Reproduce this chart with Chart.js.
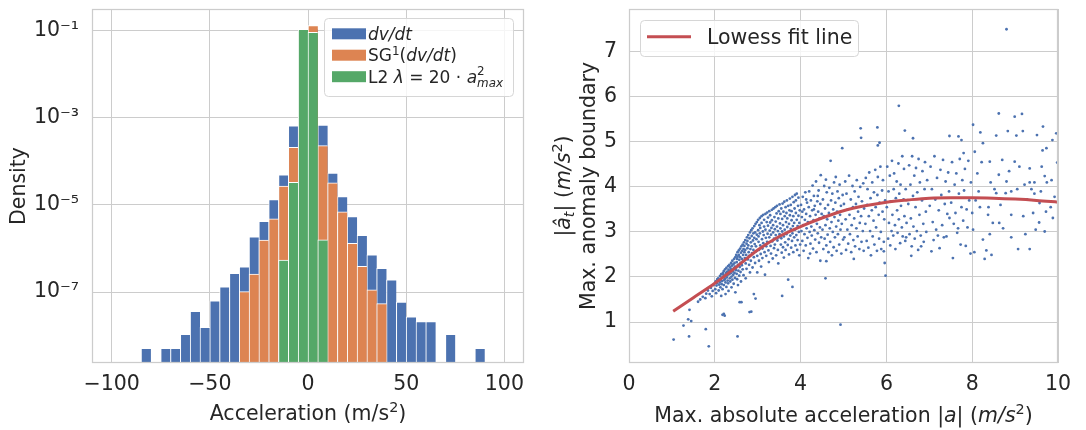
<!DOCTYPE html>
<html>
<head>
<meta charset="utf-8">
<script src="https://cdn.jsdelivr.net/npm/chart.js@4.4.1/dist/chart.umd.min.js"></script>
<style>
  body { margin: 0; background: #fff; }
  #wrap { position: relative; width: 1086px; height: 430px; }
  canvas { position: absolute; top: 0; }
  #histChart { left: 0; }
  #boundaryChart { left: 545px; }
</style>
</head>
<body>
<div id="wrap">
  <canvas id="histChart" width="545" height="430"></canvas>
  <canvas id="boundaryChart" width="541" height="430"></canvas>
</div>
<script>
// ---- histogram data (bin centers, width 5 m/s^2) ----
const binCenters = [-82.5, -77.5, -72.5, -67.5, -62.5, -57.5, -52.5, -47.5, -42.5, -37.5,
  -32.5, -27.5, -22.5, -17.5, -12.5, -7.5, -2.5, 2.5, 7.5, 12.5, 17.5, 22.5, 27.5, 32.5,
  37.5, 42.5, 47.5, 52.5, 57.5, 62.5, 67.5, 72.5, 77.5, 82.5, 87.5];

// dv/dt
const rawDensity = [5.1e-9, null, 5.1e-9, 5.1e-9, 1.07e-8, 3.6e-8, 1.55e-8, 6.3e-8, 1.32e-7, 2.7e-7,
  3.8e-7, 1.86e-6, 4.2e-6, 1.32e-5, 4.9e-5, 6.5e-4, 0.09, 0.11, 6.8e-4, 5.4e-5, 1.55e-5, 5.4e-6, 2.0e-6, 7.1e-7,
  3.5e-7, 1.9e-7, 5.9e-8, 2.7e-8, 2.1e-8, 2.1e-8, null, 1.07e-8, null, null, 5.1e-9];

// SG^1(dv/dt)
const sgDensity = [null, null, null, null, null, null, null, null, null, null,
  1.02e-7, 2.6e-7, 1.55e-6, 4.8e-6, 2.7e-5, 2.1e-4, 0.09, 0.13, 2.3e-4, 3.2e-5, 6.9e-6, 1.32e-6, 3.9e-7, 1.12e-7,
  5.4e-8, null, null, null, null, null, null, null, null, null, null];

// L2 lambda = 20 a_max^2
const l2Density = [null, null, null, null, null, null, null, null, null, null,
  null, null, null, null, 5.4e-7, 3.3e-5, 0.107, 0.091, 1.58e-6, null, null, null, null, null,
  null, null, null, null, null, null, null, null, null, null, null];

const accelTicks = [-100, -50, 0, 50, 100];
const densityTicks = [1e-7, 1e-5, 1e-3, 1e-1];
const densityTickLabels = ['10\u207B\u2077', '10\u207B\u2075', '10\u207B\u00B3', '10\u207B\u00B9'];

// ---- boundary scatter data: [max |a|, max anomaly boundary] ----
const boundaryPoints = [
  // sparse low end
  [1.04,0.61],[1.27,0.92],[1.38,1.06],[1.45,1.02],[1.41,1.27],[1.40,0.68],[1.79,0.84],[1.86,0.46],
  [1.61,1.45],[1.66,1.50],[1.72,1.56],[1.78,1.53],[1.80,1.63],[1.84,1.70],[1.88,1.62],[1.91,1.76],
  [1.95,1.69],[1.97,1.82],[1.93,1.57],[2.21,1.18],[2.23,1.14],[2.18,1.16],[2.53,0.68],[2.58,1.44],
  [2.62,1.44],[2.81,1.22],[2.85,1.23],[2.91,1.62],[2.95,1.52],[3.57,1.58],[3.71,1.94],[3.81,1.78],
  [4.58,1.97],[4.93,0.94],
  // 2.0 - 2.5
  [2.02,1.90],[2.04,1.81],[2.01,1.73],[2.06,1.95],[2.05,1.86],[2.03,1.64],
  [2.08,1.97],[2.10,1.83],[2.07,1.91],[2.09,1.70],[2.12,2.02],[2.11,1.93],[2.13,1.77],[2.12,1.88],
  [2.15,2.06],[2.14,1.96],[2.16,1.84],[2.15,1.58],[2.17,1.91],[2.19,2.09],[2.18,1.99],[2.18,1.73],
  [2.20,2.05],[2.22,1.93],[2.21,2.13],[2.21,1.82],[2.23,2.01],[2.24,2.17],[2.25,1.88],[2.24,1.96],[2.26,2.09],[2.25,1.62],
  [2.27,2.20],[2.28,1.99],[2.27,1.78],[2.29,2.12],[2.30,1.92],[2.29,2.04],[2.31,2.24],[2.32,2.16],[2.31,1.86],[2.33,2.06],[2.32,1.69],
  [2.34,2.27],[2.35,1.97],[2.34,2.13],[2.36,2.21],[2.37,2.08],[2.36,1.90],[2.38,2.31],[2.39,2.01],[2.38,2.17],[2.40,2.25],[2.39,1.77],
  [2.41,2.36],[2.42,2.12],[2.43,2.28],[2.41,1.94],[2.43,2.05],[2.44,2.19],[2.45,2.40],[2.44,1.85],[2.46,2.31],[2.46,2.09],
  [2.47,2.23],[2.48,2.44],[2.47,1.98],[2.49,2.15],[2.48,1.66],
  // 2.5 - 3.0
  [2.50,2.49],[2.51,2.33],[2.50,2.21],[2.52,2.40],[2.51,2.07],[2.53,2.55],[2.52,1.95],[2.54,2.27],[2.53,2.45],[2.55,2.14],[2.54,1.82],
  [2.56,2.59],[2.57,2.38],[2.56,2.49],[2.58,2.22],[2.57,2.03],[2.59,2.63],[2.60,2.31],[2.59,2.44],[2.61,2.54],[2.60,2.11],[2.62,2.68],[2.61,1.90],
  [2.63,2.40],[2.64,2.58],[2.63,2.26],[2.65,2.72],[2.66,2.49],[2.65,2.17],[2.67,2.62],[2.66,2.35],[2.68,2.77],[2.67,2.04],[2.69,2.55],[2.70,2.42],
  [2.69,2.69],[2.71,2.82],[2.72,2.30],[2.71,2.60],[2.73,2.49],[2.72,1.97],[2.74,2.74],[2.75,2.88],[2.74,2.18],[2.76,2.64],[2.77,2.39],[2.76,2.80],
  [2.78,2.93],[2.79,2.55],[2.78,2.70],[2.80,2.27],[2.81,2.86],[2.80,2.47],[2.82,2.99],[2.83,2.62],[2.82,2.10],[2.84,2.77],[2.85,3.04],[2.84,2.36],
  [2.86,2.91],[2.87,2.53],[2.86,2.68],[2.88,3.08],[2.89,2.81],[2.88,2.21],[2.90,2.97],[2.91,2.44],[2.90,2.60],[2.92,3.13],[2.93,2.73],[2.92,2.87],
  [2.94,2.31],[2.95,3.18],[2.94,2.99],[2.96,2.57],[2.97,2.84],[2.96,2.68],[2.98,3.22],[2.99,2.47],[2.98,2.94],[2.99,2.10],
  // 3.0 - 3.5
  [3.01,3.27],[3.02,2.78],[3.01,3.04],[3.03,2.60],[3.02,2.90],[3.04,3.15],[3.03,2.36],[3.05,3.31],[3.06,2.70],[3.05,2.97],[3.07,2.51],[3.06,3.09],[3.08,2.23],
  [3.09,3.35],[3.10,2.84],[3.09,3.20],[3.11,2.63],[3.12,3.01],[3.11,2.42],[3.13,3.38],[3.14,2.93],[3.13,2.75],[3.15,3.12],[3.16,2.55],[3.15,3.27],[3.17,2.05],
  [3.18,3.40],[3.19,2.87],[3.18,3.05],[3.20,2.68],[3.21,3.22],[3.20,2.47],[3.22,3.43],[3.23,2.96],[3.22,2.78],[3.24,3.14],[3.25,2.59],[3.24,3.32],[3.26,2.33],
  [3.27,3.46],[3.28,3.03],[3.27,2.88],[3.29,3.21],[3.30,2.69],[3.29,3.37],[3.31,2.52],[3.32,3.09],[3.31,2.94],[3.33,3.49],[3.34,2.79],[3.33,3.26],[3.35,2.41],
  [3.36,3.15],[3.37,3.52],[3.36,2.99],[3.38,2.64],[3.39,3.33],[3.38,2.85],[3.40,3.06],[3.41,3.55],[3.40,2.72],[3.42,3.23],[3.43,2.48],[3.42,2.93],[3.44,3.41],
  [3.45,3.12],[3.46,2.81],[3.45,3.58],[3.47,2.60],[3.48,3.30],[3.47,3.02],[3.49,2.88],[3.49,3.46],[3.48,2.30],
  // 3.5 - 4.0
  [3.51,3.61],[3.52,3.19],[3.51,2.95],[3.53,3.40],[3.54,2.72],[3.53,3.08],[3.55,3.52],[3.56,2.54],[3.55,2.86],[3.57,3.29],[3.58,3.63],[3.57,3.01],
  [3.59,2.66],[3.60,3.45],[3.59,3.15],[3.61,2.90],[3.62,3.67],[3.61,2.43],[3.63,3.35],[3.64,2.77],[3.63,3.05],[3.65,3.55],[3.66,3.22],[3.65,2.60],
  [3.67,2.95],[3.68,3.70],[3.67,3.42],[3.69,3.11],[3.70,2.71],[3.69,3.30],[3.71,3.58],[3.72,2.84],[3.71,3.00],[3.73,2.50],[3.74,3.48],[3.73,3.18],
  [3.75,3.74],[3.76,2.92],[3.75,3.37],[3.77,3.07],[3.78,2.65],[3.77,3.60],[3.79,3.26],[3.80,2.80],[3.79,3.46],[3.81,3.78],[3.82,3.13],[3.81,2.97],
  [3.83,2.55],[3.84,3.66],[3.83,3.35],[3.85,2.88],[3.86,3.52],[3.85,3.20],[3.87,3.82],[3.88,2.70],[3.87,3.05],[3.89,3.42],[3.90,2.93],[3.89,3.70],
  [3.91,3.27],[3.92,2.60],[3.91,3.85],[3.93,3.13],[3.94,3.58],[3.93,2.82],[3.95,3.36],[3.96,3.00],[3.95,3.76],[3.97,2.48],[3.98,3.48],[3.97,3.20],[3.99,2.72],
  // 4.0 - 4.5
  [4.01,3.60],[4.02,3.02],[4.03,3.33],[4.04,2.80],[4.05,3.78],[4.06,3.15],[4.07,2.58],[4.08,3.50],[4.09,2.95],[4.10,3.27],
  [4.11,3.88],[4.12,2.70],[4.13,3.40],[4.14,3.08],[4.15,3.65],[4.16,2.87],[4.17,3.22],[4.18,2.42],[4.19,3.55],[4.20,3.90],
  [4.21,3.00],[4.22,3.35],[4.23,2.74],[4.24,3.70],[4.25,3.12],[4.26,2.92],[4.27,3.48],[4.28,4.03],[4.29,2.63],[4.30,3.26],
  [4.31,3.80],[4.32,3.04],[4.33,3.58],[4.34,2.83],[4.35,3.38],[4.36,4.12],[4.37,2.55],[4.38,3.18],[4.39,3.68],[4.40,2.97],
  [4.41,3.45],[4.42,3.92],[4.43,2.76],[4.44,3.30],[4.45,3.10],[4.46,3.62],[4.47,4.26],[4.48,2.88],[4.49,3.40],[4.46,2.36],
  [4.04,3.45],[4.13,3.72],[4.22,2.52],[4.31,3.50],[4.40,3.80],
  // 4.5 - 5.0
  [4.51,3.05],[4.52,3.72],[4.53,2.62],[4.54,3.35],[4.55,4.02],[4.56,2.85],[4.57,3.52],[4.58,3.15],[4.59,4.16],[4.60,2.70],
  [4.61,3.88],[4.62,3.28],[4.63,2.94],[4.64,3.60],[4.65,2.55],[4.66,3.42],[4.67,3.98],[4.68,3.08],[4.69,2.78],[4.70,4.58],
  [4.71,3.70],[4.72,3.22],[4.73,2.48],[4.74,3.85],[4.75,3.00],[4.76,3.50],[4.77,2.66],[4.78,4.10],[4.79,3.33],[4.80,2.88],
  [4.81,3.65],[4.82,4.22],[4.83,3.12],[4.84,2.58],[4.85,3.45],[4.86,3.90],[4.87,2.95],[4.88,3.25],[4.89,3.75],[4.90,2.72],
  [4.91,4.05],[4.92,3.38],[4.93,3.05],[4.94,3.58],[4.95,2.52],[4.96,3.18],[4.97,4.86],[4.98,3.82],[4.99,2.83],[4.60,2.35],
  // 5.0 - 5.5
  [5.01,3.62],[5.02,2.88],[5.04,4.12],[5.05,3.28],[5.06,2.60],[5.07,3.85],[5.09,3.05],[5.10,3.50],[5.11,2.74],[5.13,4.25],
  [5.14,3.38],[5.15,2.95],[5.17,3.72],[5.18,2.55],[5.19,3.15],[5.21,4.02],[5.22,3.55],[5.23,2.82],[5.25,3.30],[5.26,3.90],
  [5.27,2.68],[5.29,3.62],[5.30,3.08],[5.31,4.15],[5.33,2.90],[5.34,3.45],[5.35,3.78],[5.37,2.62],[5.38,3.20],[5.39,4.00],
  [5.41,3.35],[5.42,2.78],[5.43,3.68],[5.45,3.02],[5.46,4.08],[5.47,2.58],[5.48,3.52],[5.40,5.30],[5.41,5.09],[5.24,2.40],
  // 5.5 - 6.0
  [5.51,3.18],[5.52,4.20],[5.54,2.80],[5.55,3.60],[5.56,3.95],[5.58,2.65],[5.59,3.35],[5.60,4.32],[5.62,3.02],[5.63,3.75],
  [5.64,2.48],[5.66,3.48],[5.67,4.10],[5.68,2.90],[5.70,3.25],[5.71,3.88],[5.72,2.72],[5.74,4.38],[5.75,3.55],[5.76,3.10],
  [5.78,2.58],[5.79,3.82],[5.80,4.22],[5.82,3.38],[5.83,2.85],[5.84,3.65],[5.86,4.45],[5.87,3.00],[5.88,2.62],[5.90,3.92],
  [5.91,3.45],[5.92,4.15],[5.94,2.78],[5.95,3.28],[5.97,3.70],
  [5.79,5.32],[5.84,4.98],[5.80,4.92],[5.94,2.57],[5.96,2.31],[5.98,2.03],
  // 6.0 - 6.5
  [6.01,3.55],[6.02,4.45],[6.04,2.85],[6.05,3.90],[6.06,3.20],[6.08,4.25],[6.09,2.70],[6.10,3.68],[6.12,3.02],[6.13,4.58],
  [6.14,3.38],[6.16,2.92],[6.17,3.95],[6.18,4.30],[6.20,3.15],[6.21,2.62],[6.22,3.75],[6.24,4.12],[6.25,3.48],[6.26,2.98],
  [6.28,4.52],[6.29,3.28],[6.30,3.85],[6.32,2.75],[6.33,4.05],[6.34,3.58],[6.36,3.10],[6.37,4.68],[6.38,2.90],[6.40,3.72],
  [6.41,4.40],[6.42,3.35],[6.44,2.80],[6.45,3.95],[6.47,3.20],
  [6.29,5.80],[6.43,5.25],[6.46,2.88],[6.58,2.47],[6.62,5.08],
  // 6.5 - 7.0
  [6.51,3.62],[6.53,4.48],[6.54,2.95],[6.56,4.05],[6.57,3.30],[6.59,2.68],[6.60,4.68],[6.62,3.80],[6.63,3.12],[6.65,4.25],
  [6.66,2.85],[6.68,3.55],[6.69,4.42],[6.71,3.02],[6.72,3.88],[6.74,2.60],[6.75,4.62],[6.77,3.38],[6.78,4.10],[6.80,2.92],
  [6.81,2.68],[6.83,3.70],[6.84,4.35],[6.86,3.18],[6.87,2.78],[6.89,3.95],[6.90,4.55],[6.92,3.45],[6.93,3.00],[6.95,4.15],
  // 7.0 - 7.5
  [7.01,3.58],[7.03,4.45],[7.05,2.57],[7.06,3.95],[7.08,3.22],[7.10,2.82],[7.12,4.68],[7.14,3.72],[7.16,3.05],[7.18,4.20],
  [7.20,2.92],[7.22,3.48],[7.24,2.64],[7.26,4.38],[7.28,3.82],[7.30,3.15],[7.32,4.60],[7.34,2.88],[7.36,3.62],[7.38,4.12],
  [7.40,2.90],[7.42,3.40],[7.44,4.32],[7.46,3.90],[7.47,3.31],[7.47,5.13],
  // 7.5 - 8.0
  [7.51,3.65],[7.53,4.55],[7.55,2.42],[7.57,3.18],[7.59,4.05],[7.61,3.42],[7.63,4.30],[7.65,2.98],[7.67,3.08],[7.69,3.85],
  [7.71,4.62],[7.73,2.72],[7.75,3.55],[7.77,4.15],[7.79,3.25],[7.81,3.92],[7.83,4.40],[7.85,2.69],[7.87,3.50],[7.89,3.10],
  [7.91,4.58],[7.93,3.70],[7.96,2.52],[7.97,4.10],[7.68,5.12],[7.75,5.04],[7.80,4.75],
  // 8.0 - 10.0
  [8.80,7.50],[8.62,5.63],[8.99,5.56],[9.16,5.62],[8.02,5.38],[8.19,5.21],[8.56,5.14],[8.83,5.24],
  [9.03,5.14],[9.18,5.24],[9.51,5.15],[9.65,5.34],[9.87,5.04],[9.96,5.19],[9.64,4.81],[9.73,4.86],
  [9.98,4.54],[8.25,4.97],[8.06,4.78],[8.41,4.56],[8.70,4.60],[8.99,4.56],[9.10,4.45],[9.34,4.41],
  [9.45,4.10],[9.69,4.24],[9.74,4.10],[8.62,4.27],[8.80,4.12],[8.91,3.90],[8.56,3.86],[8.78,3.86],
  [9.34,4.10],[9.45,3.85],[9.57,3.64],[9.72,3.45],[9.42,3.42],[9.56,3.21],[9.88,3.31],[8.91,3.38],
  [8.72,3.08],[8.91,2.88],[9.07,2.62],[9.34,2.62],[9.69,3.01],[8.37,3.38],[8.48,3.20],[8.25,2.83],
  [8.33,2.59],[8.45,2.49],[8.29,2.40],[8.02,3.05],[8.00,3.42],[8.12,4.30],[8.08,3.70],[8.43,4.10],
  [8.38,3.55],[8.41,2.95],[8.66,3.60],[8.63,3.20],[9.22,4.05],[9.19,3.35],[9.24,2.95],[9.60,3.90],
  [9.85,4.15],[9.83,3.55],[8.15,3.90],[8.05,2.55],[8.18,3.55],[8.52,3.95],[8.86,4.35],[9.28,3.72],
  [9.48,3.05],[9.62,4.45],[9.92,3.78],[9.05,3.95],[8.22,4.55],[9.38,3.95]
];

// lowess fit line
const lowessX = [1.03, 1.5, 2, 2.5, 3, 3.5, 4, 4.5, 5, 5.5, 6, 6.5, 7, 7.5, 8, 8.5, 9, 9.5, 10];
const lowessY = [1.24, 1.54, 1.86, 2.22, 2.60, 2.90, 3.12, 3.31, 3.47, 3.58, 3.66, 3.71, 3.75, 3.76, 3.76, 3.75, 3.73, 3.70, 3.66];

const maxAccelTicks = [0, 2, 4, 6, 8, 10];
const boundaryTicks = [1, 2, 3, 4, 5, 6, 7];

// ---- style ----
const BLUE = '#4c72b0';
const ORANGE = '#dd8452';
const GREEN = '#55a868';
const RED = '#c44e52';
const TEXT = '#262626';
const GRID = '#cccccc';
const FAMILY = 'DejaVu Sans';
const FS = 20.5;

/**
 * Text parts: plain strings are upright; objects may be italic (i),
 * super/subscript (sup/sub) or a stacked sup+sub pair (stack)
 */
function partList(parts) {
  return parts.map(p => typeof p === 'string' ? { t: p } : p);
}

function setFont(ctx, size, italic) {
  ctx.font = (italic ? 'italic ' : '') + size + 'px "' + FAMILY + '"';
}

function partWidth(ctx, p, size) {
  if (p.stack) {
    setFont(ctx, size * 0.7, false);
    const w1 = ctx.measureText(p.stack[0]).width;
    setFont(ctx, size * 0.7, true);
    const w2 = ctx.measureText(p.stack[1]).width;
    return Math.max(w1, w2);
  }
  setFont(ctx, (p.sup || p.sub) ? size * 0.7 : size, p.i);
  return ctx.measureText(p.t).width;
}

function drawRich(ctx, parts, x, y, size, align) {
  const list = partList(parts);
  const total = list.reduce((s, p) => s + partWidth(ctx, p, size), 0);
  let cx = align === 'center' ? x - total / 2 : x;
  ctx.textAlign = 'left';
  ctx.textBaseline = 'alphabetic';
  ctx.fillStyle = TEXT;
  list.forEach(p => {
    const w = partWidth(ctx, p, size);
    if (p.stack) {
      setFont(ctx, size * 0.7, false);
      ctx.fillText(p.stack[0], cx, y - size * 0.42);
      setFont(ctx, size * 0.7, true);
      ctx.fillText(p.stack[1], cx, y + size * 0.24);
    } else {
      setFont(ctx, (p.sup || p.sub) ? size * 0.7 : size, p.i);
      const dy = p.sup ? -size * 0.38 : (p.sub ? size * 0.2 : 0);
      ctx.fillText(p.t, cx, y + dy);
    }
    cx += w;
  });
}

function drawRotated(ctx, parts, x, y, size) {
  ctx.save();
  ctx.translate(x, y);
  ctx.rotate(-Math.PI / 2);
  drawRich(ctx, parts, 0, 0, size, 'center');
  ctx.restore();
}

// light grey frame on all four sides
const framePlugin = {
  id: 'frame',
  afterDatasetsDraw(chart) {
    const { ctx, chartArea: a } = chart;
    ctx.save();
    ctx.strokeStyle = GRID;
    ctx.lineWidth = 1.25;
    ctx.strokeRect(Math.round(a.left) + 0.5, Math.round(a.top) + 0.5,
      Math.round(a.right - a.left) - 1, Math.round(a.bottom - a.top) - 1);
    ctx.restore();
  }
};

function legendBox(ctx, x, y, w, h) {
  ctx.save();
  ctx.fillStyle = 'rgba(255,255,255,0.8)';
  ctx.strokeStyle = '#d6d6d6';
  ctx.lineWidth = 1;
  ctx.beginPath();
  ctx.roundRect(x + 0.5, y + 0.5, w, h, 4);
  ctx.fill();
  ctx.stroke();
  ctx.restore();
}

const histTextPlugin = {
  id: 'histText',
  afterDraw(chart) {
    const ctx = chart.ctx;
    const a = chart.chartArea;
    drawRich(ctx, ['Acceleration (m/s', { t: '2', sup: true }, ')'], (a.left + a.right) / 2, 420, FS, 'center');
    drawRotated(ctx, ['Density'], 25, (a.top + a.bottom) / 2, FS);

    // legend
    legendBox(ctx, 324, 18, 189, 78);
    const rows = [
      { color: BLUE, y: 33.8, text: [{ t: 'dv/dt', i: true }] },
      { color: ORANGE, y: 55.2, text: ['SG', { t: '1', sup: true }, '(', { t: 'dv/dt', i: true }, ')'] },
      { color: GREEN, y: 76.7, text: ['L2 ', { t: '\u03BB', i: true }, ' = 20 \u00B7 ', { t: 'a', i: true }, { stack: ['2', 'max'] }] }
    ];
    rows.forEach(r => {
      ctx.fillStyle = r.color;
      ctx.fillRect(332, r.y - 5.5, 34, 11);
      drawRich(ctx, r.text, 368, r.y + 5.9, 17, 'left');
    });
  }
};

const boundaryTextPlugin = {
  id: 'boundaryText',
  afterDraw(chart) {
    const ctx = chart.ctx;
    const a = chart.chartArea;
    drawRich(ctx, ['Max. absolute acceleration |', { t: 'a', i: true }, '| (', { t: 'm/s', i: true },
      { t: '2', sup: true }, ')'], (a.left + a.right) / 2, 422, FS, 'center');
    const midY = (a.top + a.bottom) / 2;
    drawRotated(ctx, ['|', { t: '\u00E2', i: true }, { t: 't', sub: true, i: true }, '| (', { t: 'm/s', i: true },
      { t: '2', sup: true }, ')'], 25, midY, FS);
    drawRotated(ctx, ['Max. anomaly boundary'], 49.5, midY, FS);

    // legend
    legendBox(ctx, 95, 20, 218, 36);
    ctx.save();
    ctx.strokeStyle = RED;
    ctx.lineWidth = 3;
    ctx.beginPath();
    ctx.moveTo(102, 36.7);
    ctx.lineTo(146, 36.7);
    ctx.stroke();
    ctx.restore();
    drawRich(ctx, ['Lowess fit line'], 162, 44, FS, 'left');
  }
};

const tickFont = { family: FAMILY, size: FS };
const fixedTicks = values => scale => { scale.ticks = values.map(v => ({ value: v })); };
// fixed axis box, and no extra room reserved for edge labels
const fixHeight = h => s => { s.height = h; s.paddingLeft = 0; s.paddingRight = 0; s.paddingTop = 0; s.paddingBottom = 0; };
const fixWidth = w => s => { s.width = w; s.paddingLeft = 0; s.paddingRight = 0; s.paddingTop = 0; s.paddingBottom = 0; };

// ---- left: histogram on log density ----
new Chart(document.getElementById('histChart'), {
  type: 'bar',
  data: {
    datasets: [
      { label: 'dv/dt', data: binCenters.map((x, i) => ({ x, y: rawDensity[i] })), backgroundColor: BLUE, order: 3 },
      { label: 'SG1(dv/dt)', data: binCenters.map((x, i) => ({ x, y: sgDensity[i] })), backgroundColor: ORANGE, order: 2 },
      { label: 'L2', data: binCenters.map((x, i) => ({ x, y: l2Density[i] })), backgroundColor: GREEN, order: 1 }
    ]
  },
  options: {
    responsive: false,
    animation: false,
    devicePixelRatio: 1,
    layout: { padding: { top: 9, right: 21, left: 0, bottom: 0 } },
    datasets: {
      bar: {
        grouped: false,
        barPercentage: 1,
        categoryPercentage: 1,
        borderColor: '#ffffff',
        borderWidth: { top: 1, left: 1, right: 0, bottom: 0 },
        borderSkipped: 'start'
      }
    },
    plugins: { legend: { display: false }, tooltip: { enabled: false } },
    scales: {
      x: {
        type: 'linear',
        min: -110,
        max: 110,
        offset: false,
        afterBuildTicks: fixedTicks(accelTicks),
        afterFit: fixHeight(67),
        grid: { color: GRID, lineWidth: 1, drawTicks: false, offset: false },
        border: { display: false },
        ticks: {
          padding: 9, font: tickFont, color: TEXT, maxRotation: 0,
          callback: v => v < 0 ? '\u2212' + Math.abs(v) : String(v)
        }
      },
      y: {
        type: 'logarithmic',
        min: 2.35e-9,
        max: 0.314,
        afterBuildTicks: fixedTicks(densityTicks),
        afterFit: fixWidth(92),
        grid: { color: GRID, lineWidth: 1, drawTicks: false },
        border: { display: false },
        ticks: {
          padding: 13, font: tickFont, color: TEXT,
          callback: (v, i) => densityTickLabels[i]
        }
      }
    }
  },
  plugins: [framePlugin, histTextPlugin]
});

// ---- right: anomaly boundary vs max acceleration ----
new Chart(document.getElementById('boundaryChart'), {
  type: 'scatter',
  data: {
    datasets: [
      {
        type: 'line',
        label: 'Lowess fit line',
        data: lowessX.map((x, i) => ({ x, y: lowessY[i] })),
        borderColor: RED,
        borderWidth: 3,
        pointRadius: 0,
        cubicInterpolationMode: 'monotone',
        fill: false,
        order: 0
      },
      {
        label: 'boundary',
        data: boundaryPoints.map(p => ({ x: p[0], y: p[1] })),
        backgroundColor: BLUE,
        borderWidth: 0,
        pointRadius: 1.4,
        order: 1
      }
    ]
  },
  options: {
    responsive: false,
    animation: false,
    devicePixelRatio: 1,
    layout: { padding: { top: 9, right: 28, left: 0, bottom: 0 } },
    plugins: { legend: { display: false }, tooltip: { enabled: false } },
    scales: {
      x: {
        type: 'linear',
        min: 0,
        max: 10,
        afterBuildTicks: fixedTicks(maxAccelTicks),
        afterFit: fixHeight(67),
        grid: { color: GRID, lineWidth: 1, drawTicks: false },
        border: { display: false },
        ticks: { padding: 9, font: tickFont, color: TEXT, maxRotation: 0 }
      },
      y: {
        type: 'linear',
        min: 0.09,
        max: 7.95,
        afterBuildTicks: fixedTicks(boundaryTicks),
        afterFit: fixWidth(84),
        grid: { color: GRID, lineWidth: 1, drawTicks: false },
        border: { display: false },
        ticks: { padding: 12, font: tickFont, color: TEXT }
      }
    }
  },
  plugins: [framePlugin, boundaryTextPlugin]
});
</script>
</body>
</html>
